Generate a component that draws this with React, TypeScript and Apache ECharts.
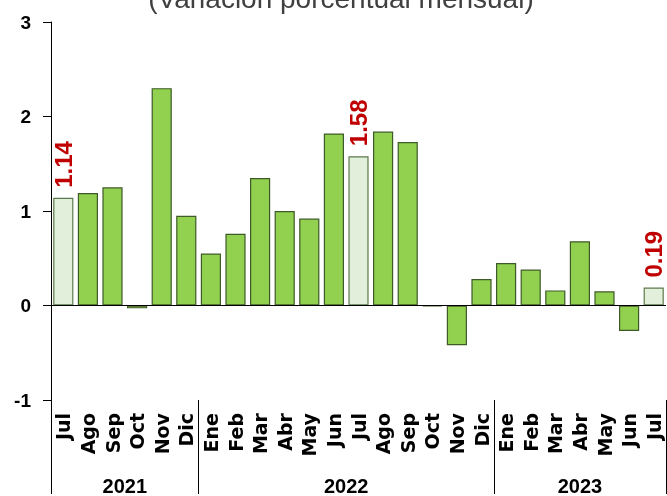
import React, { useEffect, useRef } from "react";
import * as echarts from "echarts";

const months = [
  "Jul", "Ago", "Sep", "Oct", "Nov", "Dic",
  "Ene", "Feb", "Mar", "Abr", "May", "Jun", "Jul", "Ago", "Sep", "Oct", "Nov", "Dic",
  "Ene", "Feb", "Mar", "Abr", "May", "Jun", "Jul",
];
const values = [
  1.14, 1.19, 1.25, -0.03, 2.3, 0.95,
  0.55, 0.76, 1.35, 1.0, 0.92, 1.82, 1.58, 1.84, 1.73, -0.01, -0.42, 0.28,
  0.45, 0.38, 0.16, 0.68, 0.15, -0.27, 0.19,
];
const years = ["2021", "2022", "2023"];
const yearCounts = [6, 12, 7];
const highlighted = [0, 12, 24];
const yTicks = [-1, 0, 1, 2, 3];
const title = "(Variación porcentual mensual)";

const FONT = "'Liberation Sans', Arial, sans-serif";
const MONTH_FONT = "'DejaVu Sans', sans-serif";

export default function App() {
  const ref = useRef<HTMLDivElement>(null);
  useEffect(() => {
    if (!ref.current) return;
    const chart = echarts.init(ref.current, null, { renderer: "svg" });

    const boundaries: number[] = [0];
    yearCounts.forEach((c) => boundaries.push(boundaries[boundaries.length - 1] + c));
    const centers = yearCounts.map((c, i) => boundaries[i] + c / 2);

    const data = values.map((v, i) => {
      const hi = highlighted.includes(i);
      return {
        value: v,
        itemStyle: hi
          ? { color: "#E2EFDA", borderColor: "#5E7A4C", borderWidth: 1.2 }
          : { color: "#92D050", borderColor: "#3E5B27", borderWidth: 1.2 },
        label: hi
          ? {
              show: true,
              position: "top",
              rotate: 90,
              align: "left",
              verticalAlign: "middle",
              distance: 10,
              formatter: (p: any) => p.value.toFixed(2),
              color: "#C00000",
              fontSize: 24,
              fontWeight: "bold",
              fontFamily: FONT,
            }
          : { show: false },
      };
    });

    chart.setOption({
      animation: false,
      graphic: [
        {
          type: "text",
          x: 341,
          y: -2,
          style: {
            text: title,
            fontSize: 28,
            fontFamily: FONT,
            fill: "#404040",
            align: "center",
            verticalAlign: "middle",
          },
        },
      ],
      grid: { left: 51, right: 1, top: 22, bottom: 94 },
      xAxis: [
        {
          type: "category",
          data: months,
          position: "bottom",
          axisLine: { show: false, onZero: false },
          axisTick: { show: false },
          splitLine: { show: false },
          axisLabel: {
            interval: 0,
            rotate: 90,
            margin: 13,
            color: "#000",
            fontSize: 19,
            fontWeight: "bold",
            fontFamily: MONTH_FONT,
          },
        },
        {
          type: "value",
          min: 0,
          max: boundaries[boundaries.length - 1],
          position: "bottom",
          axisLine: { show: false, onZero: false },
          splitLine: { show: false },
          axisTick: {
            show: true,
            customValues: boundaries,
            length: 94,
            lineStyle: { color: "#000", width: 1 },
          },
          axisLabel: {
            customValues: centers,
            formatter: (v: number) => {
              const idx = centers.findIndex((c) => Math.abs(c - v) < 1e-6);
              return idx >= 0 ? years[idx] : "";
            },
            margin: 76,
            color: "#000",
            fontSize: 20,
            fontWeight: "bold",
            fontFamily: FONT,
          },
        },
      ],
      yAxis: {
        type: "value",
        min: yTicks[0],
        max: yTicks[yTicks.length - 1],
        interval: 1,
        axisLine: { show: true, lineStyle: { color: "#000", width: 1 } },
        axisTick: { show: true, length: 8, lineStyle: { color: "#000" } },
        splitLine: { show: false },
        axisLabel: {
          margin: 20,
          color: "#000",
          fontSize: 19,
          fontWeight: "bold",
          fontFamily: FONT,
        },
      },
      series: [
        {
          type: "bar",
          xAxisIndex: 0,
          data,
          barCategoryGap: "18%",
          markLine: {
            silent: true,
            symbol: "none",
            label: { show: false },
            lineStyle: { color: "#000", width: 1, type: "solid" },
            data: [{ yAxis: 0 }],
          },
        },
      ],
    });
    return () => chart.dispose();
  }, []);
  return <div ref={ref} style={{ width: 667, height: 496, position: "fixed", left: 0, top: 0 }} />;
}
